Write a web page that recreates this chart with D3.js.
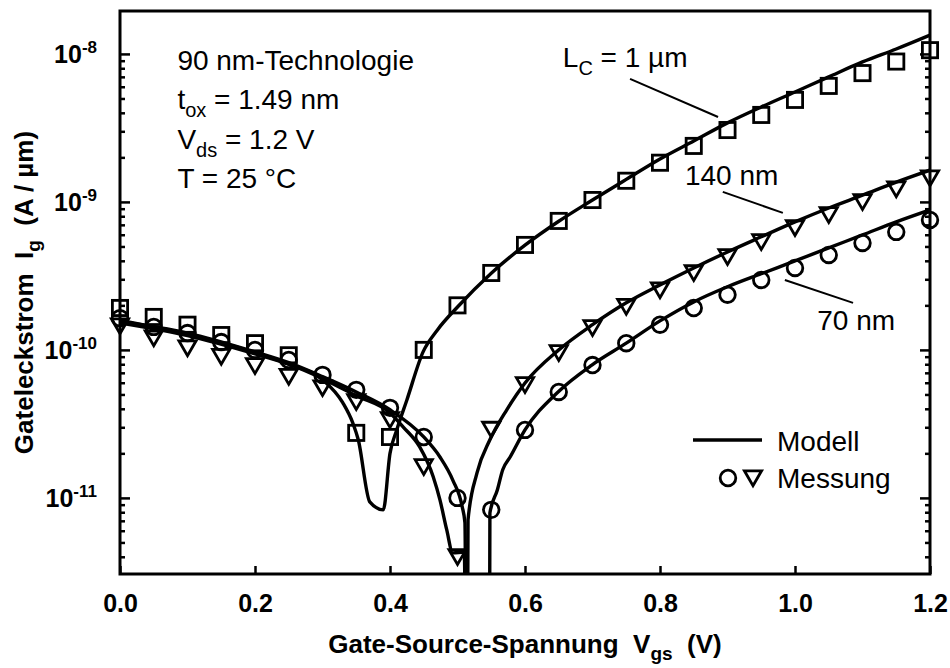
<!DOCTYPE html>
<html>
<head>
<meta charset="utf-8">
<script src="https://cdn.jsdelivr.net/npm/d3@7"></script>
<style>
  html, body { margin: 0; padding: 0; background: #fff; }
  svg { display: block; font-family: "Liberation Sans", Arial, sans-serif; }
  text { white-space: pre; }
</style>
</head>
<body>
<script>
// Gate leakage current vs. gate-source voltage, 90 nm technology
const vgs = [0, 0.05, 0.1, 0.15, 0.2, 0.25, 0.3, 0.35, 0.4, 0.45, 0.5, 0.55, 0.6,
             0.65, 0.7, 0.75, 0.8, 0.85, 0.9, 0.95, 1.0, 1.05, 1.1, 1.15, 1.2];

// measured values (A/µm); null = no point recorded
const meas1um = [1.92e-10, 1.67e-10, 1.48e-10, 1.26e-10, 1.11e-10, 9.2e-11, null, 2.75e-11, 2.58e-11,
                 1.0e-10, 2.0e-10, 3.31e-10, 5.12e-10, 7.44e-10, 1.03e-9, 1.39e-9, 1.84e-9, 2.39e-9,
                 3.06e-9, 3.87e-9, 4.89e-9, 6.08e-9, 7.42e-9, 8.88e-9, 1.06e-8];
const meas140nm = [1.45e-10, 1.2e-10, 1.03e-10, 9.0e-11, 7.8e-11, 6.6e-11, 5.53e-11, 4.45e-11, 3.37e-11,
                   1.62e-11, 4.0e-12, 2.9e-11, 5.8e-11, 9.55e-11, 1.41e-10, 1.96e-10, 2.54e-10, 3.31e-10,
                   4.25e-10, 5.37e-10, 6.67e-10, 8.17e-10, 1.0e-9, 1.22e-9, 1.45e-9];
const meas70nm = [1.64e-10, 1.43e-10, 1.30e-10, 1.13e-10, 1.0e-10, 8.55e-11, 6.78e-11, 5.37e-11, 4.06e-11,
                  2.58e-11, 1.0e-11, 8.3e-12, 2.88e-11, 5.2e-11, 7.9e-11, 1.11e-10, 1.48e-10, 1.92e-10,
                  2.36e-10, 2.97e-10, 3.58e-10, 4.38e-10, 5.28e-10, 6.27e-10, 7.55e-10];

// model curves (|Ig|; near the sign change the current drops far below the axis)
const model1umV = [0, 0.1, 0.2, 0.25, 0.3, 0.33, 0.345, 0.353, 0.37, 0.39, 0.4, 0.41, 0.425, 0.449, 0.47,
                   0.5, 0.55, 0.6, 0.65, 0.7, 0.75, 0.8, 0.85, 0.9, 0.95, 1.0, 1.05, 1.1, 1.15, 1.2];
const model1umI = [1.58e-10, 1.28e-10, 9.6e-11, 8.0e-11, 6.3e-11, 4.4e-11, 3.2e-11, 2.47e-11, 9.4e-12, 8.3e-12,
                   2.0e-11, 2.88e-11, 4.59e-11, 9.7e-11, 1.36e-10, 1.95e-10, 3.3e-10, 5.1e-10, 7.4e-10,
                   1.03e-9, 1.42e-9, 1.95e-9, 2.58e-9, 3.42e-9, 4.38e-9, 5.53e-9, 7.0e-9, 8.83e-9, 1.08e-8, 1.34e-8];
const model140nmV = [0, 0.1, 0.2, 0.25, 0.3, 0.35, 0.4, 0.42, 0.444, 0.464, 0.474, 0.484, 0.493, 0.51, 0.514,
                     0.5156, 0.529, 0.548, 0.573, 0.6, 0.65, 0.7, 0.75, 0.8, 0.85, 0.9, 0.95, 1.0, 1.05, 1.1, 1.15, 1.2];
const model140nmI = [1.52e-10, 1.25e-10, 9.4e-11, 8.0e-11, 6.4e-11, 4.9e-11, 3.75e-11, 3.0e-11, 2.21e-11, 1.39e-11,
                     9.7e-12, 6.1e-12, 4.25e-12, 4.3e-12, 1e-13, 7.1e-12, 1.48e-11, 2.47e-11, 3.94e-11, 5.98e-11,
                     1.0e-10, 1.48e-10, 2.08e-10, 2.75e-10, 3.58e-10, 4.59e-10, 5.81e-10, 7.33e-10, 9.1e-10,
                     1.11e-9, 1.36e-9, 1.64e-9];
const model70nmV = [0, 0.1, 0.2, 0.25, 0.3, 0.35, 0.4, 0.45, 0.474, 0.493, 0.507, 0.511, 0.514, 0.547, 0.548,
                    0.559, 0.567, 0.578, 0.6, 0.649, 0.699, 0.75, 0.8, 0.85, 0.9, 0.95, 1.0, 1.05, 1.1, 1.15, 1.2];
const model70nmI = [1.55e-10, 1.30e-10, 9.7e-11, 8.2e-11, 6.6e-11, 5.2e-11, 3.94e-11, 2.58e-11, 1.89e-11, 1.32e-11,
                    8.7e-12, 6.8e-12, 1e-13, 1e-13, 7.9e-12, 1.13e-11, 1.55e-11, 1.89e-11, 2.88e-11, 5.2e-11,
                    7.9e-11, 1.11e-10, 1.57e-10, 2.11e-10, 2.67e-10, 3.27e-10, 3.99e-10, 4.89e-10, 5.98e-10,
                    7.33e-10, 8.83e-10];

const xTicks = [0, 0.2, 0.4, 0.6, 0.8, 1.0, 1.2];
const yMajorTicks = [1e-11, 1e-10, 1e-9, 1e-8];

// curve labels with leader lines
const curveLabels = [
  { main: "L", sub: "C", rest: " = 1 µm", at: [0.656, 8.17e-9], line: [0.7556, 6.78e-9, 0.886, 3.75e-9] },
  { main: "140 nm", sub: "", rest: "", at: [0.837, 1.30e-9], line: [0.893, 1.17e-9, 0.982, 8.43e-10] },
  { main: "70 nm", sub: "", rest: "", at: [1.033, 1.36e-10], line: [0.985, 2.97e-10, 1.086, 2.08e-10] }
];

const W = 950, H = 668;
const x = d3.scaleLinear().domain([0, 1.2]).range([120, 930]);
const y = d3.scaleLog().domain([3.06e-12, 1.95e-8]).range([574, 11]);
const [x0, x1] = x.range();
const [yb, yt] = y.range();

const svg = d3.select("body").append("svg").attr("width", W).attr("height", H);

svg.append("defs").append("clipPath").attr("id", "plotclip")
  .append("rect").attr("x", x0).attr("y", yt).attr("width", x1 - x0).attr("height", yb - yt);

// minor log ticks (2..9 per decade)
const yMinorTicks = [];
for (const d of [1e-12, 1e-11, 1e-10, 1e-9, 1e-8]) {
  for (let m = 2; m <= 9; m++) {
    const v = m * d;
    if (v > y.domain()[0] && v < y.domain()[1]) yMinorTicks.push(v);
  }
}

function styleAxis(g) {
  g.select(".domain").remove();
  g.selectAll(".tick line").attr("stroke", "#000").attr("stroke-width", 2.5);
}

// left axis
svg.append("g").attr("transform", `translate(${x0},0)`)
  .call(d3.axisLeft(y).tickValues(yMinorTicks).tickSizeInner(-5).tickSizeOuter(0).tickFormat(() => ""))
  .call(styleAxis);
const leftMajor = svg.append("g").attr("transform", `translate(${x0},0)`)
  .call(d3.axisLeft(y).tickValues(yMajorTicks).tickSizeInner(-10).tickSizeOuter(0).tickPadding(23))
  .call(styleAxis);
leftMajor.selectAll(".tick text")
  .attr("font-family", "Liberation Sans, Arial, sans-serif")
  .attr("font-size", 25).attr("font-weight", "bold").attr("fill", "#000")
  .attr("dy", "0.36em")
  .text(null)
  .each(function (d) {
    const t = d3.select(this);
    t.append("tspan").text("10");
    t.append("tspan").attr("dy", -10).attr("font-size", 17).text(String(Math.round(Math.log10(d))));
  });

// right axis (ticks only)
svg.append("g").attr("transform", `translate(${x1},0)`)
  .call(d3.axisRight(y).tickValues(yMinorTicks).tickSizeInner(-5).tickSizeOuter(0).tickFormat(() => ""))
  .call(styleAxis);
svg.append("g").attr("transform", `translate(${x1},0)`)
  .call(d3.axisRight(y).tickValues(yMajorTicks).tickSizeInner(-10).tickSizeOuter(0).tickFormat(() => ""))
  .call(styleAxis);

// bottom axis
const bottom = svg.append("g").attr("transform", `translate(0,${yb})`)
  .call(d3.axisBottom(x).tickValues(xTicks).tickSizeInner(-8).tickSizeOuter(0).tickPadding(20)
        .tickFormat(d3.format(".1f")))
  .call(styleAxis);
bottom.selectAll(".tick text")
  .attr("font-family", "Liberation Sans, Arial, sans-serif")
  .attr("font-size", 25).attr("font-weight", "bold").attr("fill", "#000");

// frame
svg.append("rect").attr("x", x0).attr("y", yt).attr("width", x1 - x0).attr("height", yb - yt)
  .attr("fill", "none").attr("stroke", "#000").attr("stroke-width", 3);

// model lines
const line = d3.line().x(d => x(d[0])).y(d => y(d[1])).curve(d3.curveMonotoneX);
const models = [
  d3.zip(model1umV, model1umI),
  d3.zip(model140nmV, model140nmI),
  d3.zip(model70nmV, model70nmI)
];
svg.append("g").attr("clip-path", "url(#plotclip)")
  .selectAll("path").data(models).join("path")
  .attr("d", line).attr("fill", "none").attr("stroke", "#000")
  .attr("stroke-width", 3.4).attr("stroke-linejoin", "round");

// measurement markers
const pts = vals => d3.zip(vgs, vals).filter(d => d[1] != null);
const mk = svg.append("g").attr("fill", "none").attr("stroke", "#000").attr("stroke-width", 2.8);
const tri = "M-8.6,-7.2L8.6,-7.2L0,7.6Z";
mk.selectAll("rect.sq").data(pts(meas1um)).join("rect").attr("class", "sq")
  .attr("x", d => x(d[0]) - 7.6).attr("y", d => y(d[1]) - 7.6).attr("width", 15.2).attr("height", 15.2);
mk.selectAll("path.tri").data(pts(meas140nm)).join("path").attr("class", "tri")
  .attr("d", tri).attr("transform", d => `translate(${x(d[0])},${y(d[1])})`);
mk.selectAll("circle").data(pts(meas70nm)).join("circle")
  .attr("cx", d => x(d[0])).attr("cy", d => y(d[1])).attr("r", 7.8);

// curve labels
const lab = svg.append("g");
curveLabels.forEach(c => {
  lab.append("line")
    .attr("x1", x(c.line[0])).attr("y1", y(c.line[1]))
    .attr("x2", x(c.line[2])).attr("y2", y(c.line[3]))
    .attr("stroke", "#000").attr("stroke-width", 2);
  const t = lab.append("text").attr("x", x(c.at[0])).attr("y", y(c.at[1]))
    .attr("font-size", 28).attr("fill", "#000");
  t.append("tspan").text(c.main);
  if (c.sub) {
    t.append("tspan").attr("dy", 8).attr("font-size", 20).text(c.sub);
    t.append("tspan").attr("dy", -8).text(c.rest);
  }
});

// technology parameters
const info = svg.append("g").attr("font-size", 28).attr("fill", "#000");
const ix = x(0.085);
const infoRows = [
  ["90 nm-Technologie", "", ""],
  ["t", "ox", " = 1.49 nm"],
  ["V", "ds", " = 1.2 V"],
  ["T = 25 °C", "", ""]
];
infoRows.forEach((r, i) => {
  const t = info.append("text").attr("x", ix).attr("y", yt + 59 + i * 39.3);
  t.append("tspan").text(r[0]);
  if (r[1]) {
    t.append("tspan").attr("dy", 8).attr("font-size", 20).text(r[1]);
    t.append("tspan").attr("dy", -8).text(r[2]);
  }
});

// legend
const lg = svg.append("g");
lg.append("line").attr("x1", 693).attr("x2", 762).attr("y1", 440).attr("y2", 440)
  .attr("stroke", "#000").attr("stroke-width", 3.6);
lg.append("text").attr("x", 777).attr("y", 451).attr("font-size", 28).text("Modell");
lg.append("circle").attr("cx", 728).attr("cy", 478).attr("r", 7.8)
  .attr("fill", "none").attr("stroke", "#000").attr("stroke-width", 2.8);
lg.append("path").attr("d", tri).attr("transform", "translate(753,478)")
  .attr("fill", "none").attr("stroke", "#000").attr("stroke-width", 2.8);
lg.append("text").attr("x", 777).attr("y", 488).attr("font-size", 28).text("Messung");

// axis titles
const xt = svg.append("text").attr("x", (x0 + x1) / 2).attr("y", 653)
  .attr("text-anchor", "middle").attr("font-size", 26).attr("font-weight", "bold");
xt.append("tspan").text("Gate-Source-Spannung  V");
xt.append("tspan").attr("dy", 7).attr("font-size", 19).text("gs");
xt.append("tspan").attr("dy", -7).text("  (V)");

const yTitle = svg.append("text")
  .attr("transform", `translate(33,${(yt + yb) / 2}) rotate(-90)`)
  .attr("text-anchor", "middle").attr("font-size", 26).attr("font-weight", "bold");
yTitle.append("tspan").text("Gateleckstrom  I");
yTitle.append("tspan").attr("dy", 7).attr("font-size", 19).text("g");
yTitle.append("tspan").attr("dy", -7).text("  (A / µm)");
</script>
</body>
</html>
